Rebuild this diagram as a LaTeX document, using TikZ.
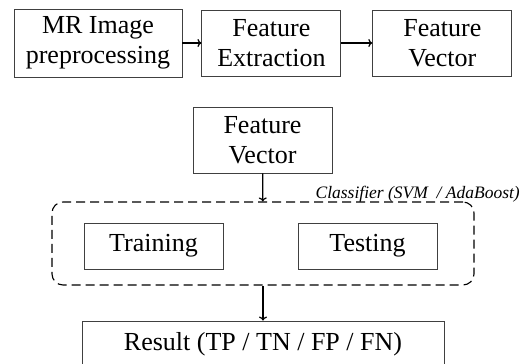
\documentclass[tikz,border=0pt]{standalone}
\usepackage{fontspec}
\setmainfont{Liberation Serif}
\usetikzlibrary{positioning, arrows.meta}

\begin{document}
\begin{tikzpicture}[x=1pt, y=-1pt, node distance=19pt, box/.style={draw=black!75, line width=0.9pt, rectangle, align=center, inner sep=0pt, minimum width=139pt, minimum height=66pt, font=\fontsize{26}{30}\selectfont}, arrow/.style={draw, -{To[length=4pt, width=8pt]}, line width=1.2pt}]
    \useasboundingbox (0,0) rectangle (523,364);
    % nodes
    \node[box, minimum width=168pt, minimum height=68pt] (prep) at (98,43) {MR Image\\preprocessing};
    \node[box] (extr) [right=of prep] {Feature\\Extraction};
    \node[box] (vec) [right=31pt of extr] {Feature\\Vector};
    \node[box] (vec2) at (262.5,140) {Feature\\Vector};
    \node[draw, dash pattern=on 9pt off 5pt, line width=1.1pt, rounded corners=11pt, minimum width=422pt, minimum height=83pt] (clf) at (263,243.5) {};
    \node[font=\itshape\fontsize{17.5}{20}\selectfont, anchor=base east, inner sep=0pt] (clflabel) at (520,198) {Classifier (SVM~ / AdaBoost)};
    \node[box, minimum height=46pt] (train) at (153.5,246) {Training};
    \node[box, minimum height=46pt] (test) at (367.5,246) {Testing};
    \node[box, minimum width=362pt, minimum height=46pt] (res) at (263,344) {Result (TP / TN / FP / FN)};

    % arrows
    \draw[arrow] (prep) -- (extr);
    \draw[arrow] (extr) -- (vec);
    \draw[arrow] (vec2) -- (clf);
    \draw[arrow] (clf) -- (res);
\end{tikzpicture}
\end{document}
